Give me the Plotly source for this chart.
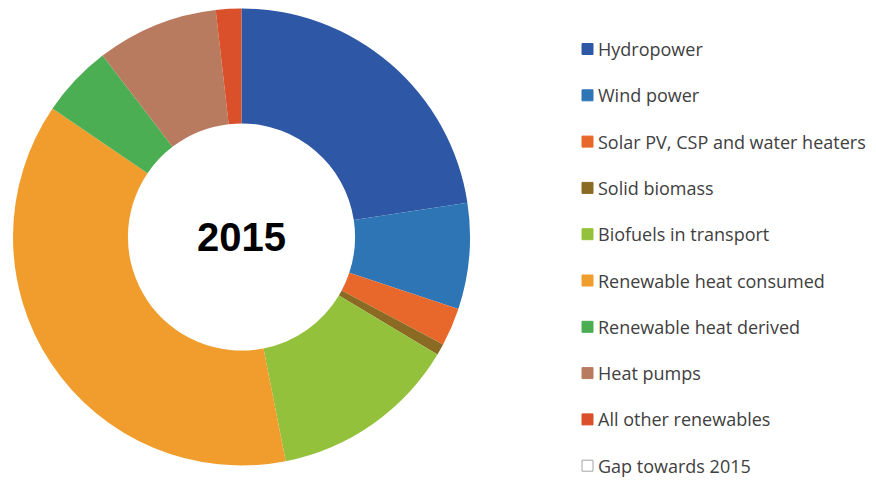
import plotly.graph_objects as go

# Shares of renewable energy in 2015 (percent)
labels = [
    "Hydropower",
    "Wind power",
    "Solar PV, CSP and water heaters",
    "Solid biomass",
    "Biofuels in transport",
    "Renewable heat consumed",
    "Renewable heat derived",
    "Heat pumps",
    "All other renewables",
    "Gap towards 2015",
]
values = [22.6, 7.5, 2.7, 0.8, 13.3, 37.6, 5.1, 8.6, 1.8, 0.0]
colors = [
    "#2E58A6", "#2E75B6", "#E8682B", "#8B6A24", "#94C13C",
    "#F09D2D", "#4BAE53", "#B97B60", "#D9502B", "#FFFFFF",
]
center_label = "2015"

W, H = 876, 480

fig = go.Figure()
fig.add_trace(go.Pie(
    labels=labels,
    values=values,
    marker=dict(colors=colors, line=dict(width=0)),
    hole=0.497,
    sort=False,
    direction="clockwise",
    rotation=0,
    textinfo="none",
    hoverinfo="label+percent",
    showlegend=False,
    domain=dict(x=[13 / W, 470 / W], y=[14 / H, 1 - 8 / H]),
))

# Centre label
fig.add_annotation(
    x=241 / W, y=1 - 237 / H, xref="paper", yref="paper",
    text=f"<b>{center_label}</b>", showarrow=False,
    font=dict(family="Liberation Sans, Arial, sans-serif", size=40, color="#000000"),
    xanchor="center", yanchor="middle",
)

# Legend: coloured squares with labels, one row per category
legend_top = 49
legend_step = 46.3
sq = 11
shapes = []
for i, (lab, col) in enumerate(zip(labels, colors)):
    yc = legend_top + i * legend_step
    border = "#A6A6A6" if col.upper() == "#FFFFFF" else col
    shapes.append(dict(
        type="rect", xref="paper", yref="paper",
        x0=582 / W, x1=(582 + sq) / W,
        y0=1 - (yc + sq / 2) / H, y1=1 - (yc - sq / 2) / H,
        fillcolor=col, line=dict(color=border, width=1),
    ))
    fig.add_annotation(
        x=596 / W, y=1 - yc / H, xref="paper", yref="paper",
        text=lab, showarrow=False, xanchor="left", yanchor="middle",
        font=dict(family="Open Sans, Arial, sans-serif", size=18, color="#404040"),
    )

fig.update_layout(
    width=W, height=H,
    margin=dict(l=0, r=0, t=0, b=0),
    paper_bgcolor="white",
    plot_bgcolor="white",
    shapes=shapes,
)

fig.write_html("out.html")
